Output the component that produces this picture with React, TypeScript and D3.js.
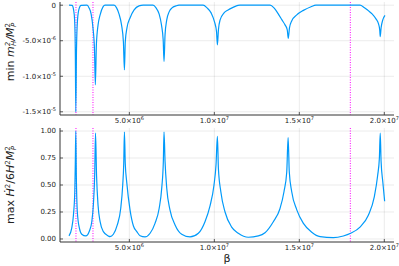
import React from "react";
import * as d3 from "d3";

// ---- data (β in units of 1e6) ----
const topBetaM = [1.45,1.63,1.72,1.78,1.82,1.85,1.89,1.95,2.04,2.16,2.51,2.63,2.75,2.86,2.95,3.0,3.06,3.16,3.28,3.45,3.57,4.1,4.25,4.39,4.54,4.65,4.71,4.76,4.86,5.04,5.28,5.57,5.81,6.39,6.57,6.75,6.89,6.99,7.04,7.1,7.2,7.34,7.51,7.75,7.92,9.34,9.57,9.81,10.01,10.13,10.18,10.24,10.34,10.57,10.81,11.1,11.39,11.51,13.28,13.51,13.76,13.98,14.16,14.29,14.35,14.42,14.55,14.85,15.24,15.69,15.98,18.57,18.81,19.04,19.28,19.51,19.66,19.73,19.76,19.81,19.91,20.04];
// min m_H^2/M_P^2 in units of 1e-6
const topMinM2 = [0,-0.03,-0.66,-2.07,-6.3,-15.0,-6.3,-2.07,-0.52,-0.03,0,-0.38,-1.22,-3.19,-6.29,-11.2,-5.58,-2.77,-1.36,-0.24,0,0,-0.38,-1.22,-2.77,-5.16,-9.1,-5.16,-3.19,-1.79,-0.66,-0.1,0,0,-0.38,-1.22,-2.77,-4.88,-7.93,-4.18,-2.07,-0.94,-0.38,-0.1,0,0,-0.38,-1.08,-2.35,-3.76,-5.58,-3.47,-2.07,-1.08,-0.66,-0.31,-0.03,0,0,-0.38,-1.22,-2.07,-2.77,-3.47,-4.67,-3.19,-2.21,-1.36,-0.73,-0.21,0,0,-0.31,-0.73,-1.22,-1.93,-2.63,-3.47,-4.42,-3.19,-2.07,-1.43];

const botBetaM = [1.45,1.61,1.71,1.79,1.82,1.85,1.88,1.94,2.06,2.2,2.44,2.65,2.79,2.88,2.96,3.01,3.07,3.16,3.28,3.47,3.76,3.86,4.06,4.29,4.49,4.61,4.67,4.71,4.76,4.85,5.04,5.24,5.44,5.63,5.92,6.22,6.51,6.75,6.91,7.0,7.04,7.1,7.2,7.39,7.69,8.08,8.57,9.06,9.45,9.75,9.98,10.1,10.18,10.24,10.38,10.63,11.02,11.41,12.0,12.59,12.98,13.47,13.86,14.1,14.26,14.34,14.41,14.55,14.85,15.24,15.73,16.22,17.0,17.59,18.02,18.57,19.06,19.41,19.61,19.71,19.76,19.81,19.91,20.02];
const botMaxHdot = [0.028,0.1,0.22,0.44,0.7,1.0,0.6,0.25,0.1,0.044,0.028,0.074,0.16,0.31,0.59,0.98,0.59,0.31,0.16,0.068,0.028,0.022,0.044,0.13,0.28,0.5,0.7,0.99,0.7,0.52,0.27,0.12,0.068,0.03,0.019,0.053,0.145,0.28,0.48,0.72,0.99,0.72,0.47,0.27,0.13,0.044,0.019,0.053,0.16,0.31,0.5,0.69,0.95,0.65,0.44,0.25,0.11,0.053,0.016,0.028,0.058,0.16,0.28,0.44,0.62,0.94,0.62,0.44,0.27,0.145,0.062,0.021,0.012,0.028,0.053,0.11,0.22,0.39,0.59,0.75,0.98,0.72,0.53,0.35];

const vLines = [1.86e6, 2.86e6, 1.8e7];

const xTickValues = [5e6, 1e7, 1.5e7, 2e7];
const xTickMant = ["5.0", "1.0", "1.5", "2.0"];
const xTickExp = ["6", "7", "7", "7"];

const topTickValues = [0, -5e-6, -1e-5, -1.5e-5];
const topTickMant = ["0", "-5.0", "-1.0", "-1.5"];
const topTickExp = ["", "-6", "-5", "-5"];

const botTickValues = [0, 0.25, 0.5, 0.75, 1.0];
const botTickLabels = ["0.00", "0.25", "0.50", "0.75", "1.00"];

const W = 399, H = 266;
const FONT = "DejaVu Sans, sans-serif";
const BLUE = "#009AFA";

const x = d3.scaleLinear().domain([0.92e6, 20.57e6]).range([60, 394]);
const yTop = d3.scaleLinear().domain([-15.45e-6, 0.45e-6]).range([115, 2]);
const yBot = d3.scaleLinear().domain([-0.028, 1.028]).range([242, 128]);

function SciLabel({ mant, exp, ...rest }: any) {
  return (
    <text {...rest}>
      {mant}
      {exp !== "" && (
        <>
          {"×10"}
          <tspan dy={-3} fontSize={5}>{exp}</tspan>
        </>
      )}
    </text>
  );
}

function Panel({ y, top, bottom, data, yTicks, yLabels }: any) {
  const line = d3
    .line<[number, number]>()
    .x((d) => x(d[0]))
    .y((d) => y(d[1]))
    .curve(d3.curveMonotoneX);
  return (
    <g>
      {xTickValues.map((v, i) => (
        <line key={"gx" + i} x1={x(v)} x2={x(v)} y1={top} y2={bottom} stroke="#000" strokeOpacity={0.1} strokeWidth={0.8} />
      ))}
      {yTicks.map((v: number, i: number) => (
        <line key={"gy" + i} x1={60} x2={394} y1={y(v)} y2={y(v)} stroke="#000" strokeOpacity={0.1} strokeWidth={0.8} />
      ))}
      {vLines.map((v, i) => (
        <line key={"vl" + i} x1={x(v)} x2={x(v)} y1={top} y2={bottom} stroke="#FF00FF" strokeWidth={1} strokeDasharray="1,1.5" />
      ))}
      <path d={line(data) || ""} fill="none" stroke={BLUE} strokeWidth={1.2} strokeLinejoin="round" />
      <line x1={60} x2={394} y1={bottom} y2={bottom} stroke="#333" strokeWidth={1} />
      <line x1={60} x2={60} y1={top} y2={bottom} stroke="#333" strokeWidth={1} />
      {xTickValues.map((v, i) => (
        <line key={"tx" + i} x1={x(v)} x2={x(v)} y1={bottom} y2={bottom - 3} stroke="#333" strokeWidth={0.8} />
      ))}
      {yTicks.map((v: number, i: number) => (
        <line key={"ty" + i} x1={60} x2={63} y1={y(v)} y2={y(v)} stroke="#333" strokeWidth={0.8} />
      ))}
      {yLabels.map((lab: any, i: number) => (
        <SciLabel key={"yl" + i} mant={lab[0]} exp={lab[1]} x={56} y={y(yTicks[i])} dy="0.35em" textAnchor="end" fontSize={7} fill="#222" fontFamily={FONT} />
      ))}
      {xTickValues.map((v, i) => (
        <SciLabel key={"xl" + i} mant={xTickMant[i]} exp={xTickExp[i]} x={x(v)} y={bottom + 8} textAnchor="middle" fontSize={7} fill="#222" fontFamily={FONT} />
      ))}
    </g>
  );
}

export default function App() {
  const topData: [number, number][] = topBetaM.map((b, i) => [b * 1e6, topMinM2[i] * 1e-6]);
  const botData: [number, number][] = botBetaM.map((b, i) => [b * 1e6, botMaxHdot[i]]);
  return (
    <div style={{ position: "fixed", left: 0, top: 0 }}>
      <svg width={W} height={H} style={{ display: "block", background: "#fff" }}>
        <Panel y={yTop} top={2} bottom={115} data={topData} yTicks={topTickValues}
          yLabels={topTickMant.map((m, i) => [m, topTickExp[i]])} />
        <Panel y={yBot} top={128} bottom={242} data={botData} yTicks={botTickValues}
          yLabels={botTickLabels.map((m) => [m, ""])} />
        <text transform="translate(14,52) rotate(-90)" textAnchor="middle" fontSize={11} fontFamily={FONT} fill="#222">
          {"min "}
          <tspan fontStyle="italic">m</tspan>
          <tspan fontSize={7} dy={-4} fontStyle="italic">2</tspan>
          <tspan fontSize={7} dx={-4} dy={6} fontStyle="italic">H</tspan>
          <tspan dy={-2} fontStyle="italic">/M</tspan>
          <tspan fontSize={7} dy={-4}>2</tspan>
          <tspan fontSize={7} dx={-4} dy={6} fontStyle="italic">P</tspan>
        </text>
        <text transform="translate(14,185) rotate(-90)" textAnchor="middle" fontSize={11} fontFamily={FONT} fill="#222">
          {"max "}
          <tspan fontStyle="italic">Ḣ</tspan>
          <tspan fontSize={7} dy={-4}>2</tspan>
          <tspan dy={4}>/6</tspan>
          <tspan fontStyle="italic">H</tspan>
          <tspan fontSize={7} dy={-4}>2</tspan>
          <tspan dy={4} fontStyle="italic">M</tspan>
          <tspan fontSize={7} dy={-4}>2</tspan>
          <tspan fontSize={7} dx={-4} dy={6} fontStyle="italic">P</tspan>
        </text>
        <text x={227} y={262} textAnchor="middle" fontSize={11} fontFamily={FONT} fill="#222">β</text>
      </svg>
    </div>
  );
}
